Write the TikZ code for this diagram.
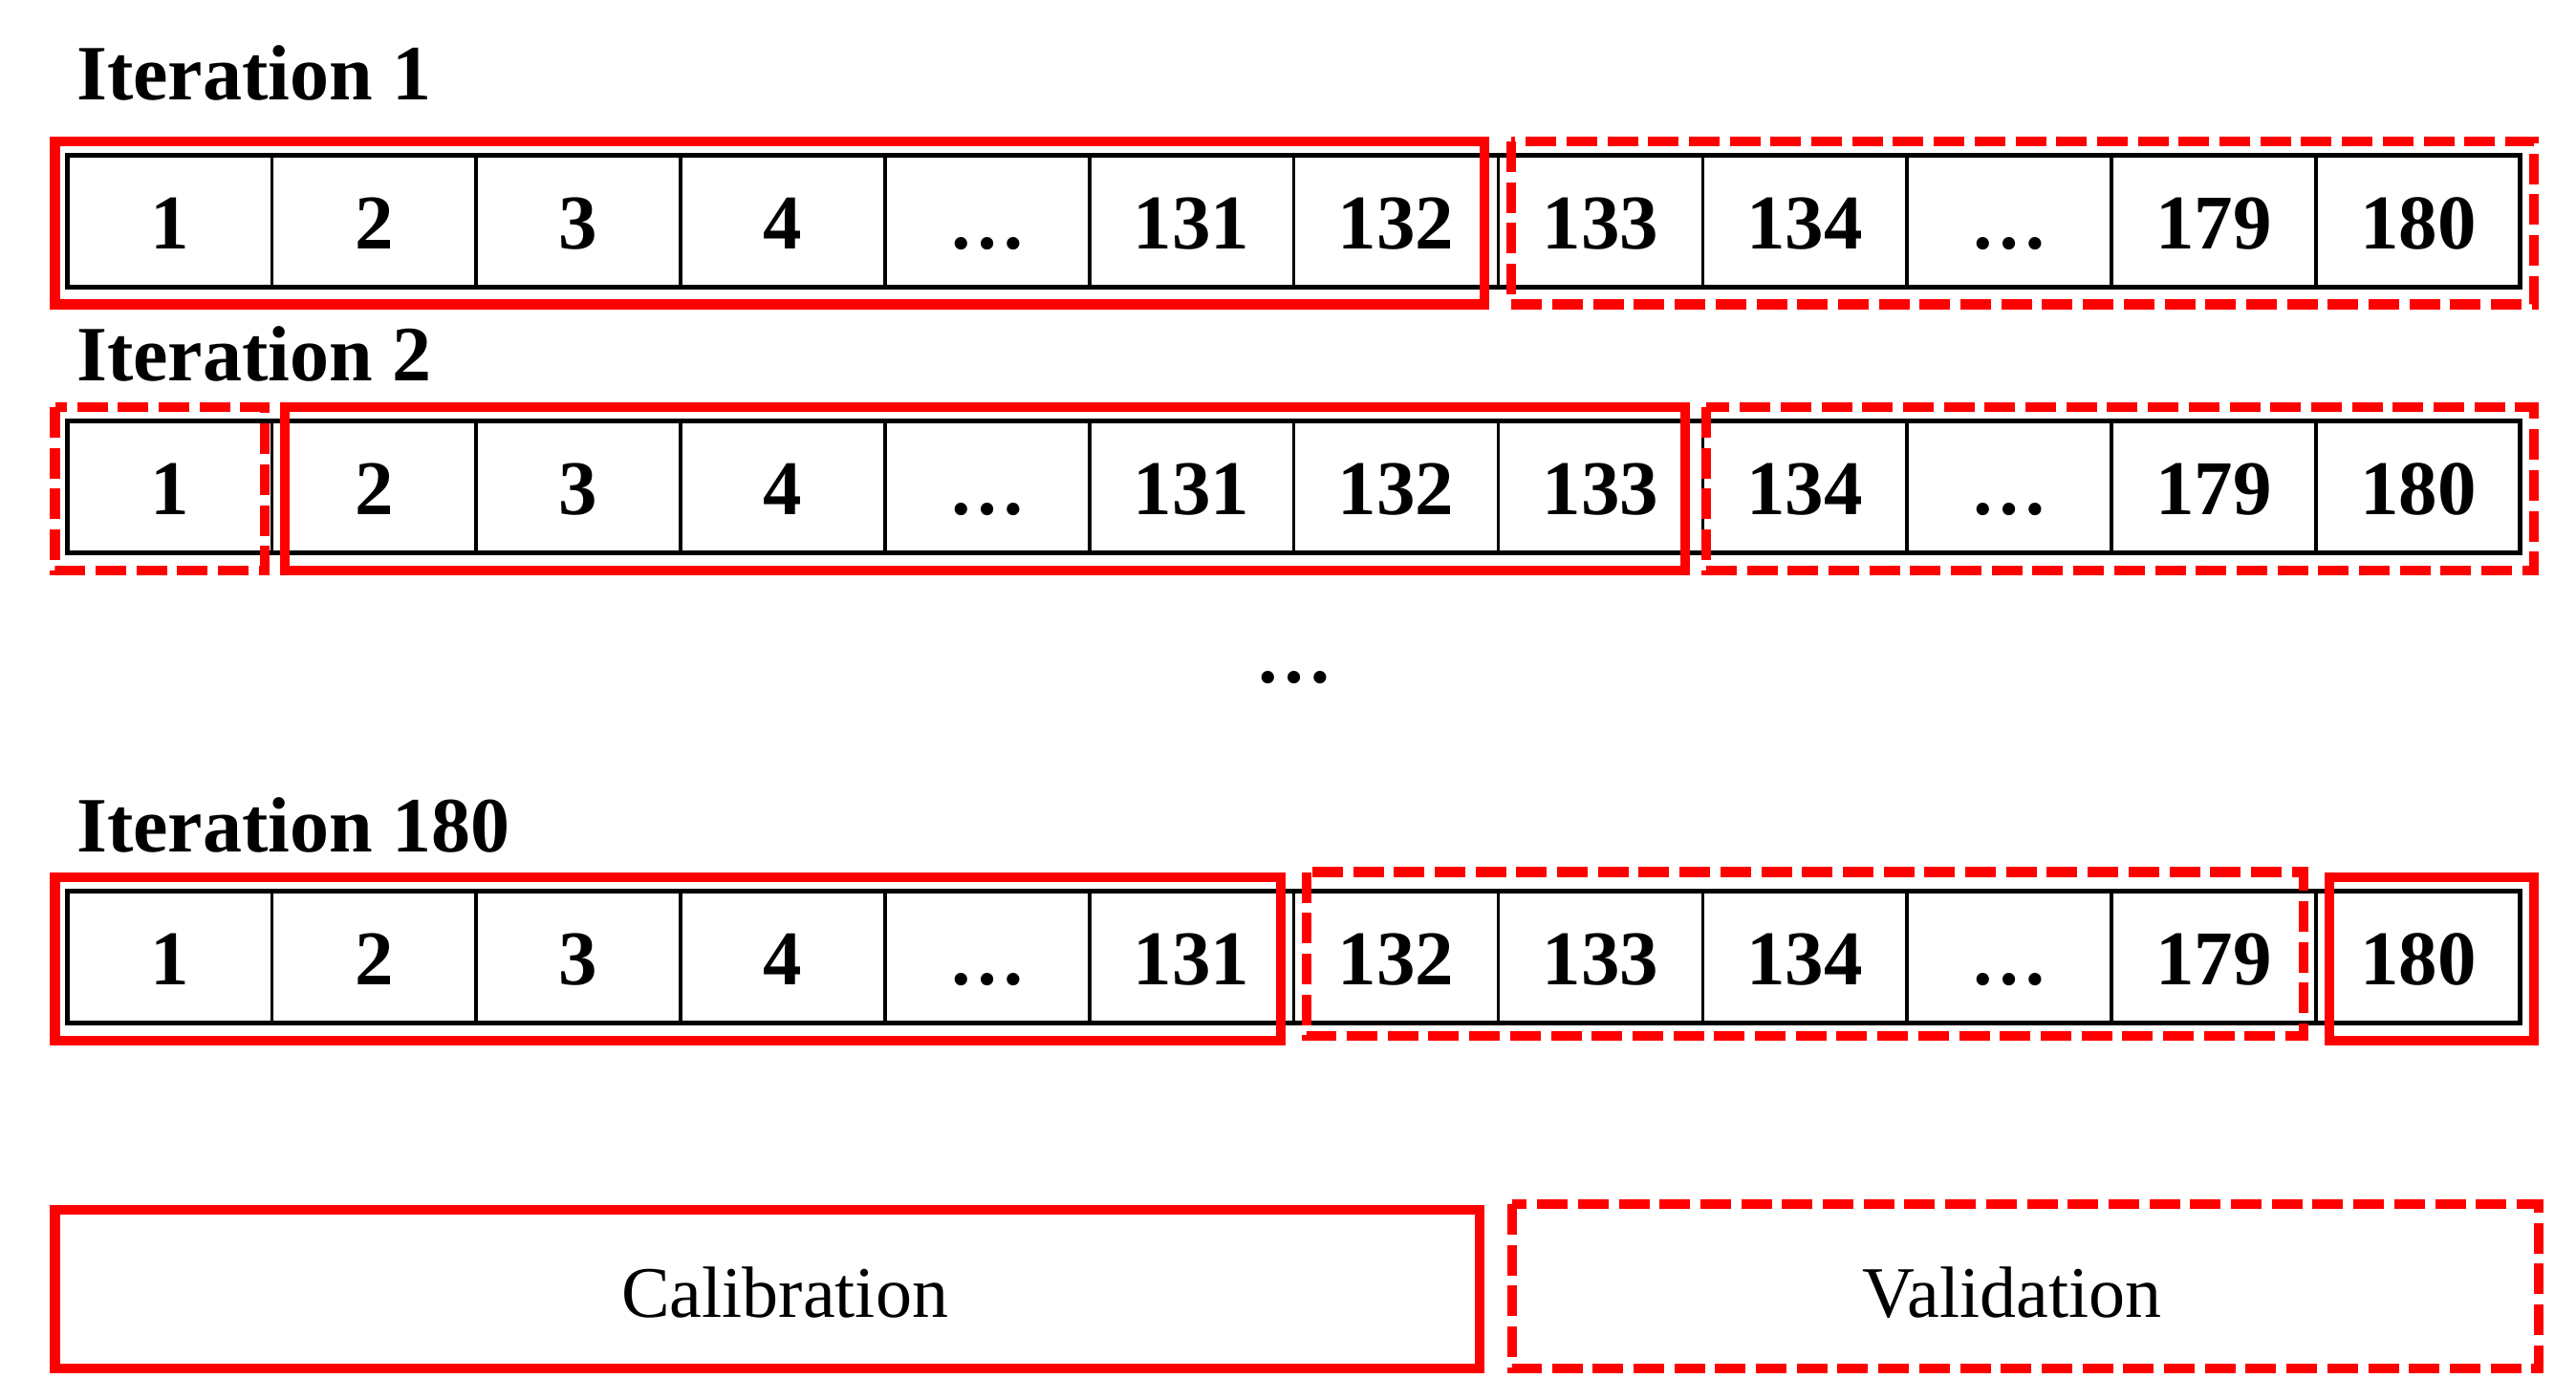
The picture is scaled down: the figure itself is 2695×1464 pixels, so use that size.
\documentclass[tikz,border=0pt]{standalone}
\usepackage{fontspec}
\setmainfont{Liberation Serif}
\definecolor{rd}{RGB}{255,0,0}
\begin{document}
\begin{tikzpicture}[x=1pt,y=-1pt,
  cell/.style={draw=black, line width=3.5pt, minimum width=213.85pt, minimum height=138pt,
    inner sep=0pt, outer sep=0pt, text height=58pt, text depth=0pt,
    font=\fontsize{81}{97}\selectfont\bfseries},
  rowframe/.style={draw=black, line width=5pt},
  calsolid/.style={draw=rd, line width=10.5pt},
  valdash/.style={draw=rd, line width=10.5pt, dash pattern=on 32pt off 10.7pt},
  title/.style={anchor=base west, inner sep=0pt, font=\fontsize{82}{98}\selectfont\bfseries},
  lbl/.style={anchor=base, inner sep=0pt, font=\fontsize{76}{92}\selectfont}]
\useasboundingbox (0,0) rectangle (2695,1464);
\fill[white] (0,0) rectangle (2695,1464);

% titles
\node[title] (t1) at (80,104) {Iteration 1};
\node[title] (t2) at (80,398) {Iteration 2};
\node[title] (t3) at (80,891) {Iteration 180};

% rows of cells
\foreach \r/\yc in {1/231,2/509,3/1001}{
  \foreach \lab [count=\i] in {1,2,3,4,…,131,132,133,134,…,179,180}{
    \node[cell] (r\r c\i) at ({70.5+213.85*(\i-0.5)},\yc) {\lab};
  }
  \draw[rowframe] (r\r c1.north west) rectangle (r\r c12.south east);
}

% iteration 1 groups
\draw[calsolid] (57.5,148) rectangle (1553,318.5);
\draw[valdash] (1581,148) rectangle (2651,318.5);
% iteration 2 groups
\draw[valdash] (57.5,426) rectangle (277,597);
\draw[calsolid] (298,426) rectangle (1763,597);
\draw[valdash] (1785,426) rectangle (2651,597);
% iteration 180 groups
\draw[calsolid] (57.5,918) rectangle (1340,1089);
\draw[valdash] (1367,912.5) rectangle (2410,1084);
\draw[calsolid] (2437,918) rectangle (2651,1089);

% ellipsis between iterations
\node[anchor=base, inner sep=0pt, font=\fontsize{81}{97}\selectfont\bfseries] (dots) at (1354,714) {…};

% legend
\draw[calsolid] (57.5,1266) rectangle (1548,1432);
\draw[valdash] (1582,1260) rectangle (2656,1432);
\node[lbl] (cal) at (821,1378) {Calibration};
\node[lbl] (val) at (2105,1378) {Validation};
\end{tikzpicture}
\end{document}
